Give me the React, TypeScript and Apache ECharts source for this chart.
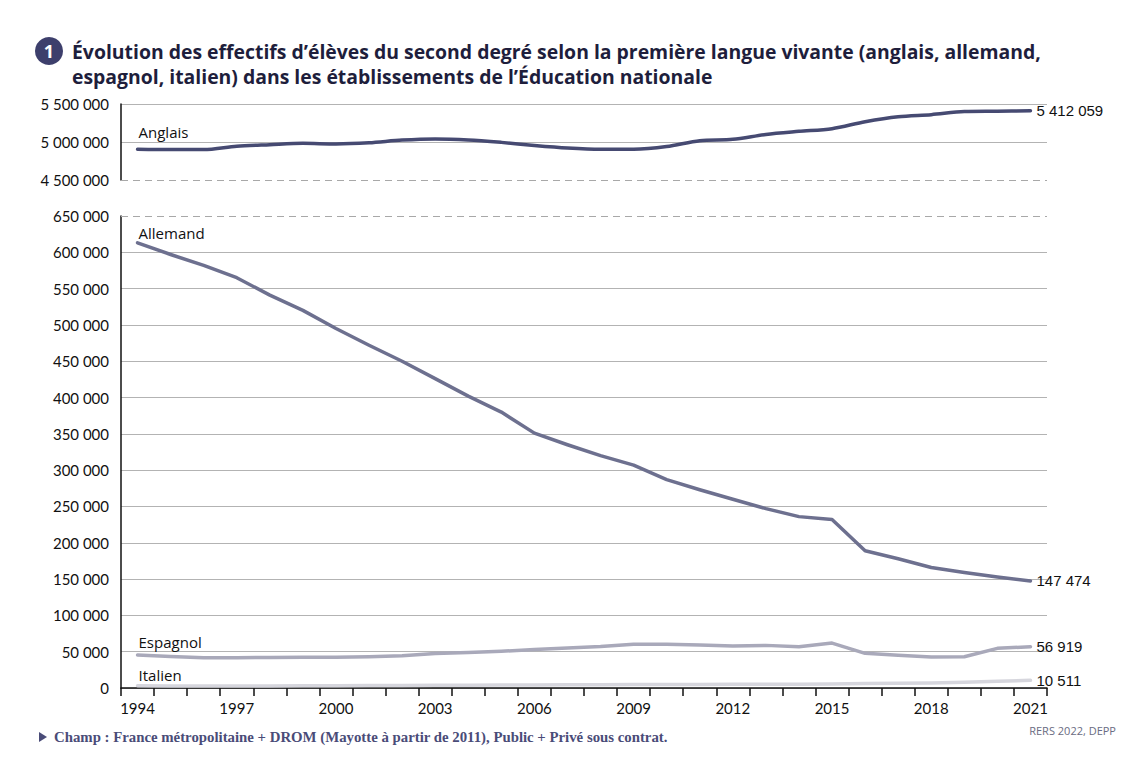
import React, { useEffect, useRef } from 'react';
import * as echarts from 'echarts';

const years = ['1994','1995','1996','1997','1998','1999','2000','2001','2002','2003','2004','2005','2006','2007','2008','2009','2010','2011','2012','2013','2014','2015','2016','2017','2018','2019','2020','2021'];

const anglais = [4905000, 4900000, 4900000, 4945000, 4965000, 4982000, 4975000, 4990000, 5025000, 5040000, 5027000, 4995000, 4955000, 4922000, 4905000, 4905000, 4940000, 5017000, 5035000, 5100000, 5140000, 5175000, 5267000, 5333000, 5360000, 5400000, 5405000, 5412059];

const allemand = [613000, 597000, 582000, 565000, 541000, 520000, 495000, 472000, 450000, 426000, 402000, 380000, 351000, 335000, 320000, 307000, 287000, 273000, 260000, 247000, 236000, 232000, 189000, 178000, 166000, 159000, 153000, 147474];

const espagnol = [45400, 43500, 41500, 41800, 42000, 42300, 42300, 43000, 44500, 47500, 49000, 50500, 53000, 55000, 57000, 60100, 60100, 59200, 57800, 58700, 56900, 61900, 47700, 45000, 42700, 43100, 54600, 56919];

const italien = [3000, 2800, 2700, 2800, 2900, 3000, 3100, 3300, 3500, 3700, 3900, 4000, 4200, 4400, 4600, 4700, 4800, 4900, 5000, 5000, 5100, 5400, 6200, 6700, 6800, 7800, 9300, 10511];

const topTicks = { min: 4500000, max: 5500000, interval: 500000 };
const bottomTicks = { min: 0, max: 650000, interval: 50000 };

const fmt = (v: number) => String(Math.round(v)).replace(/\B(?=(\d{3})+(?!\d))/g, ' ');

const nameFont = { fontFamily: 'Open Sans', fontSize: 15, color: '#111' };

function withName(values: number[], name: string, distance: number, color: string) {
  return values.map((v, i) =>
    i === 0
      ? {
          value: v,
          symbol: 'circle',
          symbolSize: 0.01,
          itemStyle: { color },
          label: { show: true, formatter: name, position: 'top', align: 'left', distance, offset: [1, 0], ...nameFont },
        }
      : v
  );
}

function makeSeries(name: string, values: number[], color: string, axis: number, distance: number, smooth: number | boolean) {
  return {
    name,
    type: 'line',
    xAxisIndex: axis,
    yAxisIndex: axis,
    data: withName(values, name, distance, color),
    symbol: 'none',
    smooth,
    lineStyle: { color, width: 3.5, cap: 'round', join: 'round' },
    itemStyle: { color },
    label: { show: false },
    endLabel: {
      show: true,
      distance: 6,
      formatter: (p: any) => fmt(Number(Array.isArray(p.value) ? p.value[1] : p.value)),
      fontFamily: 'Liberation Sans',
      fontSize: 15,
      color: '#111',
    },
    emphasis: { disabled: true },
    z: 3,
  };
}

export default function App() {
  const ref = useRef<HTMLDivElement>(null);
  useEffect(() => {
    document.body.style.margin = '0';
    const chart = echarts.init(ref.current!, null, { renderer: 'svg' });
    const axisLabel = { fontFamily: 'Lato', fontSize: 15, color: '#111', margin: 12, formatter: (v: number) => fmt(v) };
    const dashed = (y: number) => ({
      silent: true,
      symbol: 'none',
      label: { show: false },
      lineStyle: { color: '#a8a8a8', type: [7, 5], width: 1 },
      data: [{ yAxis: y }],
    });
    const option: any = {
      animation: false,
      backgroundColor: '#fff',
      grid: [
        { left: 121, width: 926, top: 104, height: 76 },
        { left: 121, width: 926, top: 216, height: 472 },
      ],
      xAxis: [
        { type: 'category', gridIndex: 0, data: years, boundaryGap: true, show: false },
        {
          type: 'category',
          gridIndex: 1,
          data: years,
          boundaryGap: true,
          axisLine: { show: true, lineStyle: { color: '#111', width: 1.5 } },
          axisTick: { show: true, interval: 0, length: 8, lineStyle: { color: '#111', width: 1.5 } },
          axisLabel: { interval: 2, fontFamily: 'Lato', fontSize: 15, color: '#111', margin: 12 },
          splitLine: { show: false },
        },
      ],
      yAxis: [
        {
          type: 'value',
          gridIndex: 0,
          ...topTicks,
          axisLine: { show: true, lineStyle: { color: '#111', width: 1.5 } },
          axisTick: { show: false },
          axisLabel,
          splitLine: { show: true, showMinLine: false, lineStyle: { color: '#b3b3b3', width: 1 } },
        },
        {
          type: 'value',
          gridIndex: 1,
          ...bottomTicks,
          axisLine: { show: true, lineStyle: { color: '#111', width: 1.5 } },
          axisTick: { show: false },
          axisLabel,
          splitLine: { show: true, showMaxLine: false, lineStyle: { color: '#b3b3b3', width: 1 } },
        },
      ],
      series: [
        { ...makeSeries('Anglais', anglais, '#464a72', 0, 10, 0.3), markLine: dashed(4500000) },
        { ...makeSeries('Allemand', allemand, '#6d708f', 1, 2, false), markLine: dashed(650000) },
        makeSeries('Espagnol', espagnol, '#a9a9ba', 1, 6, false),
        makeSeries('Italien', italien, '#d6d6dd', 1, 3, false),
      ],
      graphic: [
        { type: 'circle', shape: { cx: 49, cy: 51, r: 14 }, style: { fill: '#3d3f6c' } },
        {
          type: 'text',
          x: 49,
          y: 51,
          style: { text: '1', fill: '#fff', font: 'bold 18px "Open Sans"', textAlign: 'center', textVerticalAlign: 'middle' },
        },
        {
          type: 'text',
          x: 72,
          y: 39,
          style: {
            text: 'Évolution des effectifs d’élèves du second degré selon la première langue vivante (anglais, allemand,\nespagnol, italien) dans les établissements de l’Éducation nationale',
            fill: '#1e1e3c',
            font: 'bold 19.4px "Open Sans"',
            lineHeight: 25,
          },
        },
        { type: 'polygon', shape: { points: [[39, 732], [39, 742], [47, 737]] }, style: { fill: '#4a4c78' } },
        {
          type: 'text',
          x: 54,
          y: 737,
          style: {
            text: 'Champ : France métropolitaine + DROM (Mayotte à partir de 2011), Public + Privé sous contrat.',
            fill: '#4a4c78',
            font: 'bold 14.8px "Liberation Serif"',
            textVerticalAlign: 'middle',
          },
        },
        {
          type: 'text',
          x: 1116,
          y: 730,
          style: { text: 'RERS 2022, DEPP', fill: '#6a6c82', font: '11px "Open Sans"', textAlign: 'right', textVerticalAlign: 'middle' },
        },
      ],
    };
    chart.setOption(option);
    return () => chart.dispose();
  }, []);
  return <div ref={ref} style={{ width: 1144, height: 768 }} />;
}
